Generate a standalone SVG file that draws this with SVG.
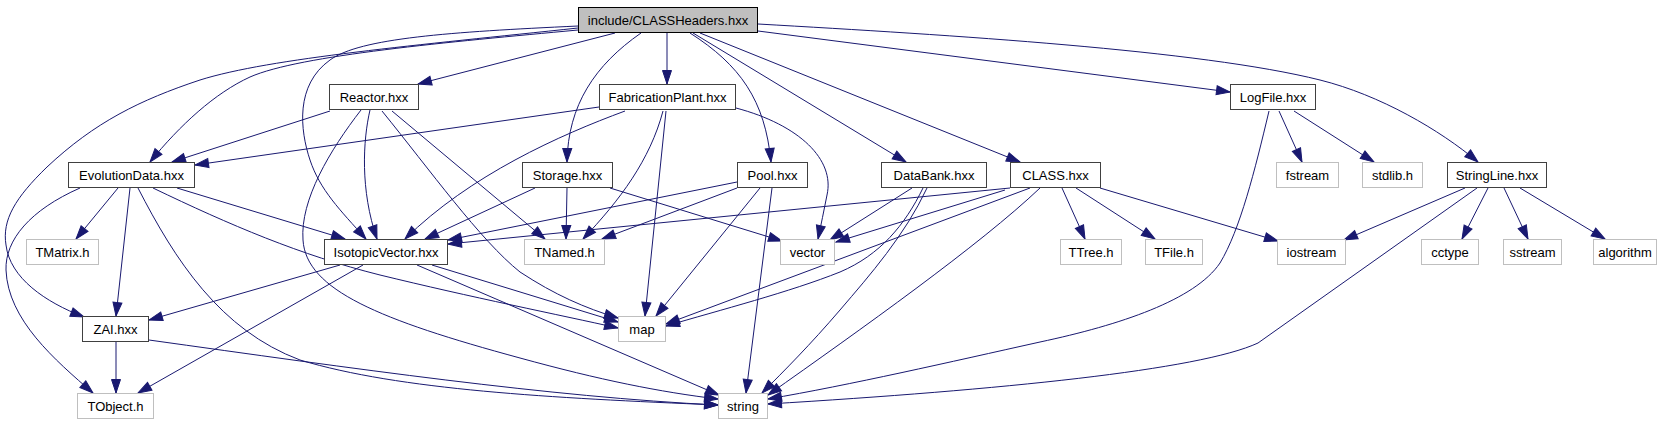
<svg xmlns="http://www.w3.org/2000/svg" width="1669" height="427" viewBox="0 0 1669 427">
<style>
text{font-family:"Liberation Sans",Arial,sans-serif;font-size:13px;text-anchor:middle;fill:#000}
.n rect{fill:#fff;stroke:#404040;stroke-width:1}
.g rect{fill:#fff;stroke:#bfbfbf;stroke-width:1}
.r rect{fill:#bfbfbf;stroke:#000;stroke-width:1}
#edges path{fill:none;stroke:#191970;stroke-width:1;marker-end:url(#a)}
</style>
<defs>
<marker id="a" viewBox="-16 -7 17 14" markerWidth="17" markerHeight="14" refX="0" refY="0" orient="auto" markerUnits="userSpaceOnUse" overflow="visible">
<polygon points="-13.5,-4.5 0,0 -13.5,4.5" fill="#191970" stroke="#191970" stroke-width="1"/>
</marker>
</defs>
<rect width="1669" height="427" fill="#fff"/>
<g id="edges">
<path d="M615,33 L418,84"/>
<path d="M578,30 C450,42 300,55 250,77 C215,93 180,125 150,162"/>
<path d="M578,26 C450,32 360,38 330,60 C295,85 300,130 310,160 C320,190 340,210 366,239"/>
<path d="M578,28 C420,45 270,58 200,80 C140,100 95,122 47,167 C15,198 2,220 6,245 C10,278 45,302 84,317"/>
<path d="M641,33 C595,65 568,105 567,162"/>
<path d="M667,33 L667,84"/>
<path d="M690,33 C740,65 765,100 771,162"/>
<path d="M693,33 L906,162"/>
<path d="M700,33 L1020,162"/>
<path d="M758,31 L1230,92"/>
<path d="M758,24 C950,35 1200,50 1320,80 C1380,95 1440,130 1478,162"/>
<path d="M330,111 L172,162"/>
<path d="M370,110 C363,140 360,190 377,239"/>
<path d="M361,110 C330,150 300,200 303,240 C306,290 380,320 520,358 C600,380 660,392 718,399"/>
<path d="M392,111 L545,239"/>
<path d="M382,111 C430,170 480,240 520,272 C555,295 585,308 618,318"/>
<path d="M599,107 L195,165"/>
<path d="M625,111 C560,135 470,175 405,239"/>
<path d="M663,111 C650,160 620,200 583,239"/>
<path d="M666,111 L645,316"/>
<path d="M736,108 C800,125 835,160 827,195 C824,210 821,225 818,239"/>
<path d="M535,188 L425,239"/>
<path d="M567,188 L566,239"/>
<path d="M610,188 L782,241"/>
<path d="M737,182 L448,240"/>
<path d="M737,188 L602,239"/>
<path d="M760,188 L656,316"/>
<path d="M772,188 L746,393"/>
<path d="M912,188 L830,240"/>
<path d="M923,188 C905,225 880,255 840,272 C790,292 720,310 666,326"/>
<path d="M927,188 C905,235 870,275 840,310 C810,345 785,370 762,393"/>
<path d="M1010,188 L448,244"/>
<path d="M1005,190 L836,242"/>
<path d="M1030,188 L666,324"/>
<path d="M1040,188 C980,245 860,330 768,395"/>
<path d="M1062,188 L1085,239"/>
<path d="M1076,188 L1155,239"/>
<path d="M1100,188 L1278,241"/>
<path d="M1279,111 L1302,162"/>
<path d="M1294,111 L1374,162"/>
<path d="M1269,111 C1255,170 1240,230 1220,263 C1195,300 1120,325 1040,342 C950,362 850,385 768,399"/>
<path d="M1465,188 L1344,240"/>
<path d="M1477,188 L1258,343 C1200,370 1000,390 768,404"/>
<path d="M1488,188 L1462,239"/>
<path d="M1504,188 L1528,239"/>
<path d="M1520,188 L1605,239"/>
<path d="M80,188 C30,210 5,240 6,270 C8,320 55,360 93,393"/>
<path d="M118,188 L76,239"/>
<path d="M130,188 L116,316"/>
<path d="M138,188 C175,260 220,330 300,360 C400,390 550,398 718,405"/>
<path d="M153,188 C230,225 300,255 380,275 C470,297 560,315 618,328"/>
<path d="M177,188 L345,239"/>
<path d="M340,265 L149,320"/>
<path d="M363,265 L138,393"/>
<path d="M432,265 L618,322"/>
<path d="M417,265 L719,395"/>
<path d="M116,342 L116,393"/>
<path d="M149,340 C350,368 550,397 718,405"/>
</g>
<g id="root" class="r"><rect x="578.5" y="7.5" width="179" height="25"/><text x="668" y="25">include/CLASSHeaders.hxx</text></g>
<g id="reactor" class="n"><rect x="329.5" y="84.5" width="89" height="25"/><text x="374" y="102">Reactor.hxx</text></g>
<g id="fabricationplant" class="n"><rect x="599.5" y="84.5" width="136" height="25"/><text x="667.5" y="102">FabricationPlant.hxx</text></g>
<g id="logfile" class="n"><rect x="1230.5" y="84.5" width="85" height="25"/><text x="1273" y="102">LogFile.hxx</text></g>
<g id="evolutiondata" class="n"><rect x="68.5" y="162.5" width="126" height="25"/><text x="131.5" y="180">EvolutionData.hxx</text></g>
<g id="storage" class="n"><rect x="522.5" y="162.5" width="90" height="25"/><text x="567.5" y="180">Storage.hxx</text></g>
<g id="pool" class="n"><rect x="737.5" y="162.5" width="70" height="25"/><text x="772.5" y="180">Pool.hxx</text></g>
<g id="databank" class="n"><rect x="881.5" y="162.5" width="105" height="25"/><text x="934" y="180">DataBank.hxx</text></g>
<g id="class" class="n"><rect x="1010.5" y="162.5" width="90" height="25"/><text x="1055.5" y="180">CLASS.hxx</text></g>
<g id="fstream" class="g"><rect x="1276.5" y="162.5" width="62" height="25"/><text x="1307.5" y="180">fstream</text></g>
<g id="stdlib" class="g"><rect x="1362.5" y="162.5" width="60" height="25"/><text x="1392.5" y="180">stdlib.h</text></g>
<g id="stringline" class="n"><rect x="1447.5" y="162.5" width="99" height="25"/><text x="1497" y="180">StringLine.hxx</text></g>
<g id="tmatrix" class="g"><rect x="26.5" y="239.5" width="72" height="25"/><text x="62.5" y="257">TMatrix.h</text></g>
<g id="isotopicvector" class="n"><rect x="324.5" y="239.5" width="123" height="25"/><text x="386" y="257">IsotopicVector.hxx</text></g>
<g id="tnamed" class="g"><rect x="524.5" y="239.5" width="80" height="25"/><text x="564.5" y="257">TNamed.h</text></g>
<g id="vector" class="g"><rect x="780.5" y="239.5" width="54" height="25"/><text x="807.5" y="257">vector</text></g>
<g id="ttree" class="g"><rect x="1060.5" y="239.5" width="61" height="25"/><text x="1091" y="257">TTree.h</text></g>
<g id="tfile" class="g"><rect x="1145.5" y="239.5" width="57" height="25"/><text x="1174" y="257">TFile.h</text></g>
<g id="iostream" class="g"><rect x="1277.5" y="239.5" width="68" height="25"/><text x="1311.5" y="257">iostream</text></g>
<g id="cctype" class="g"><rect x="1421.5" y="239.5" width="57" height="25"/><text x="1450" y="257">cctype</text></g>
<g id="sstream" class="g"><rect x="1503.5" y="239.5" width="58" height="25"/><text x="1532.5" y="257">sstream</text></g>
<g id="algorithm" class="g"><rect x="1593.5" y="239.5" width="63" height="25"/><text x="1625" y="257">algorithm</text></g>
<g id="zai" class="n"><rect x="82.5" y="316.5" width="66" height="25"/><text x="115.5" y="334">ZAI.hxx</text></g>
<g id="map" class="g"><rect x="618.5" y="316.5" width="47" height="25"/><text x="642" y="334">map</text></g>
<g id="tobject" class="g"><rect x="77.5" y="393.5" width="76" height="25"/><text x="115.5" y="411">TObject.h</text></g>
<g id="string" class="g"><rect x="718.5" y="393.5" width="49" height="25"/><text x="743" y="411">string</text></g>
</svg>
